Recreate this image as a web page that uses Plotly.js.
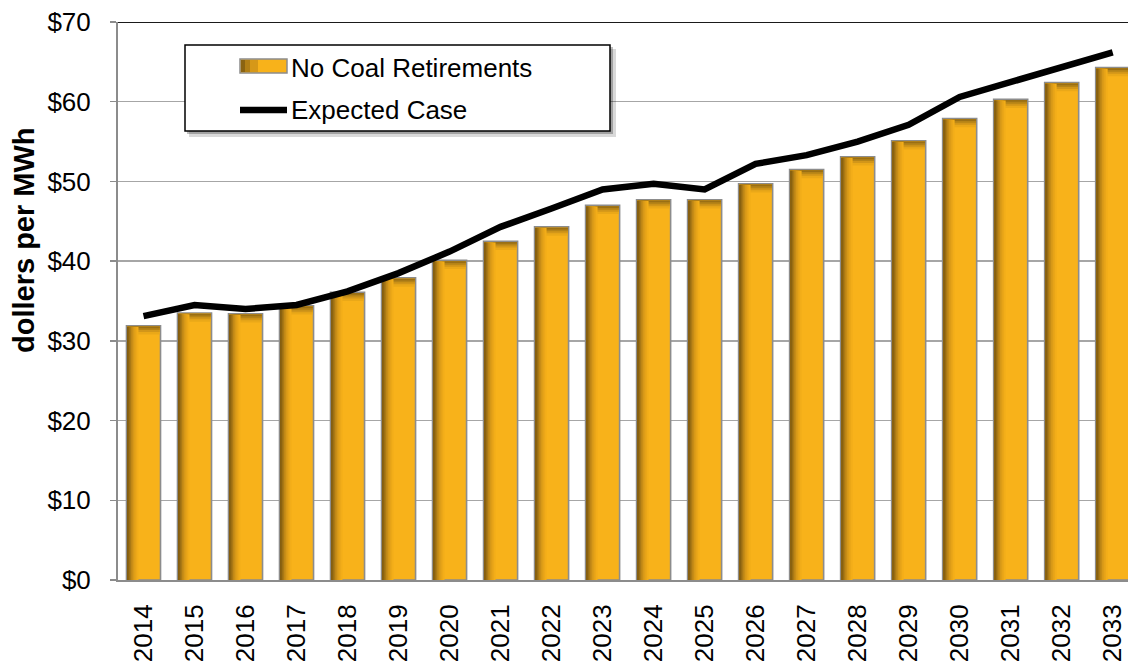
<!DOCTYPE html>
<html>
<head>
<meta charset="utf-8">
<script src="https://cdn.plot.ly/plotly-3.0.1.min.js"></script>
<style>html,body{margin:0;padding:0;background:#fff;}#chart{width:1128px;height:670px;}</style>
</head>
<body>
<div id="chart"></div>
<script>
// ---- data ----
const years = ['2014','2015','2016','2017','2018','2019','2020','2021','2022','2023',
               '2024','2025','2026','2027','2028','2029','2030','2031','2032','2033'];
const noCoalRetirements = [31.9,33.5,33.4,34.4,36.1,37.9,40.1,42.5,44.3,47.0,
                           47.7,47.7,49.7,51.5,53.1,55.1,57.9,60.3,62.4,64.3];
const expectedCase = [33.1,34.5,34.0,34.5,36.2,38.5,41.2,44.3,46.6,49.0,
                      49.7,49.0,52.2,53.3,55.0,57.1,60.6,62.5,64.4,66.2];
const yTickVals = [0,10,20,30,40,50,60,70];
const yTickText = ['$0','$10','$20','$30','$40','$50','$60','$70'];
const seriesNames = ['No Coal Retirements','Expected Case'];
const yAxisTitle = 'dollers per MWh';

// ---- layout geometry ----
const W = 1128, H = 670;
const M = {l:118, r:0, t:22, b:90};
const pw = W - M.l - M.r, ph = H - M.t - M.b;
const px = x => (x - M.l) / pw;          // pixel -> paper x
const py = y => (H - M.b - y) / ph;      // pixel -> paper y

const FONT = 'Liberation Sans, Arial, Helvetica, sans-serif';
const ORANGE = '#F8B21A';
const BW = 0.667;      // bar width in category units

const traces = [];
// main bars
traces.push({
  type:'bar', x: years, y: noCoalRetirements, name: seriesNames[0],
  width: BW, offset: -BW/2,
  marker:{color: ORANGE, line:{color:'#8c8c8c', width:1.6}},
  showlegend:false, hoverinfo:'skip'
});
// top shading (darker band at top of each bar)
const topShades = [{h:1.0, c:'#eaa818'},{h:0.7, c:'#d29619'},{h:0.45, c:'#b58317'},{h:0.22, c:'#9a6f14'}];
topShades.forEach(s => {
  traces.push({
    type:'bar', x: years,
    y: noCoalRetirements.map(() => s.h),
    base: noCoalRetirements.map(v => v - s.h - 0.1),
    width: BW - 0.03, offset: -BW/2 + 0.015,
    marker:{color: s.c, line:{width:0}},
    showlegend:false, hoverinfo:'skip'
  });
});
// left shading strips (gradient from dark edge)
const leftShades = [
  {w:0.22, c:'#f2ad19'},
  {w:0.18, c:'#e6a318'},
  {w:0.14, c:'#d69818'},
  {w:0.105, c:'#c28917'},
  {w:0.075, c:'#aa7915'},
  {w:0.045, c:'#926812'},
  {w:0.02, c:'#7c5810'}
];
leftShades.forEach(s => {
  traces.push({
    type:'bar', x: years,
    y: noCoalRetirements.map(v => v - 0.15),
    width: s.w, offset: -BW/2 + 0.015,
    marker:{color: s.c, line:{width:0}},
    showlegend:false, hoverinfo:'skip'
  });
});
// expected case line
traces.push({
  type:'scatter', mode:'lines', x: years, y: expectedCase, name: seriesNames[1],
  line:{color:'#000000', width:6.5},
  showlegend:false, hoverinfo:'skip'
});

// custom legend (box with shadow, swatches, text)
const shapes = [
  // top frame line of plot area
  {type:'line', xref:'paper', yref:'y', x0:0, x1:1, y0:70, y1:70, line:{color:'#1a1a1a', width:2}, layer:'above'},
  // legend shadow
  {type:'rect', xref:'paper', yref:'paper', x0:px(189), x1:px(616), y0:py(137), y1:py(49),
   fillcolor:'rgba(0,0,0,0.15)', line:{width:0}, layer:'above'},
  {type:'rect', xref:'paper', yref:'paper', x0:px(187), x1:px(613), y0:py(134), y1:py(47),
   fillcolor:'rgba(0,0,0,0.25)', line:{width:0}, layer:'above'},
  // legend box
  {type:'rect', xref:'paper', yref:'paper', x0:px(185), x1:px(610), y0:py(131), y1:py(45),
   fillcolor:'#ffffff', line:{color:'#000000', width:1.5}, layer:'above'},
  // bar swatch
  {type:'rect', xref:'paper', yref:'paper', x0:px(240), x1:px(287), y0:py(73), y1:py(59),
   fillcolor: ORANGE, line:{color:'#8c8c8c', width:1.5}, layer:'above'},
  {type:'rect', xref:'paper', yref:'paper', x0:px(241), x1:px(258), y0:py(72), y1:py(60),
   fillcolor:'#d69818', line:{width:0}, layer:'above'},
  {type:'rect', xref:'paper', yref:'paper', x0:px(241), x1:px(250), y0:py(72), y1:py(60),
   fillcolor:'#b07e15', line:{width:0}, layer:'above'},
  {type:'rect', xref:'paper', yref:'paper', x0:px(241), x1:px(245), y0:py(72), y1:py(60),
   fillcolor:'#8a6311', line:{width:0}, layer:'above'},
  // line swatch
  {type:'line', xref:'paper', yref:'paper', x0:px(240), x1:px(287), y0:py(110), y1:py(110),
   line:{color:'#000000', width:6.5}, layer:'above'}
];

const annotations = [
  {xref:'paper', yref:'paper', x:px(289), y:py(68), text: seriesNames[0], showarrow:false,
   xanchor:'left', yanchor:'middle', font:{family:FONT, size:26, color:'#000'}},
  {xref:'paper', yref:'paper', x:px(289), y:py(110), text: seriesNames[1], showarrow:false,
   xanchor:'left', yanchor:'middle', font:{family:FONT, size:26, color:'#000'}},
  {xref:'paper', yref:'paper', x:px(24), y:py(240), text:'<b>' + yAxisTitle + '</b>', showarrow:false,
   textangle:-90, xanchor:'center', yanchor:'middle', font:{family:FONT, size:29, color:'#000'}}
];

const layout = {
  width: W, height: H,
  margin: M,
  paper_bgcolor:'#ffffff', plot_bgcolor:'#ffffff',
  barmode:'overlay',
  showlegend:false,
  font:{family:FONT, size:26, color:'#000'},
  xaxis:{
    type:'category', range:[-0.5, 19.3],
    showgrid:false, zeroline:false,
    showline:true, linecolor:'#8c8c8c', linewidth:2,
    ticks:'', tickangle:-90, ticklabelstandoff:12,
    tickfont:{family:FONT, size:26, color:'#000'}
  },
  yaxis:{
    range:[0,70], tickvals: yTickVals, ticktext: yTickText,
    showgrid:true, gridcolor:'#a6a6a6', gridwidth:1.5,
    zeroline:false,
    showline:true, linecolor:'#8c8c8c', linewidth:2,
    ticks:'outside', ticklen:6, tickcolor:'#8c8c8c', tickwidth:1.5,
    ticklabelstandoff:14,
    tickfont:{family:FONT, size:26, color:'#000'}
  },
  shapes: shapes,
  annotations: annotations
};

Plotly.newPlot('chart', traces, layout, {staticPlot:true, displayModeBar:false});
</script>
</body>
</html>
